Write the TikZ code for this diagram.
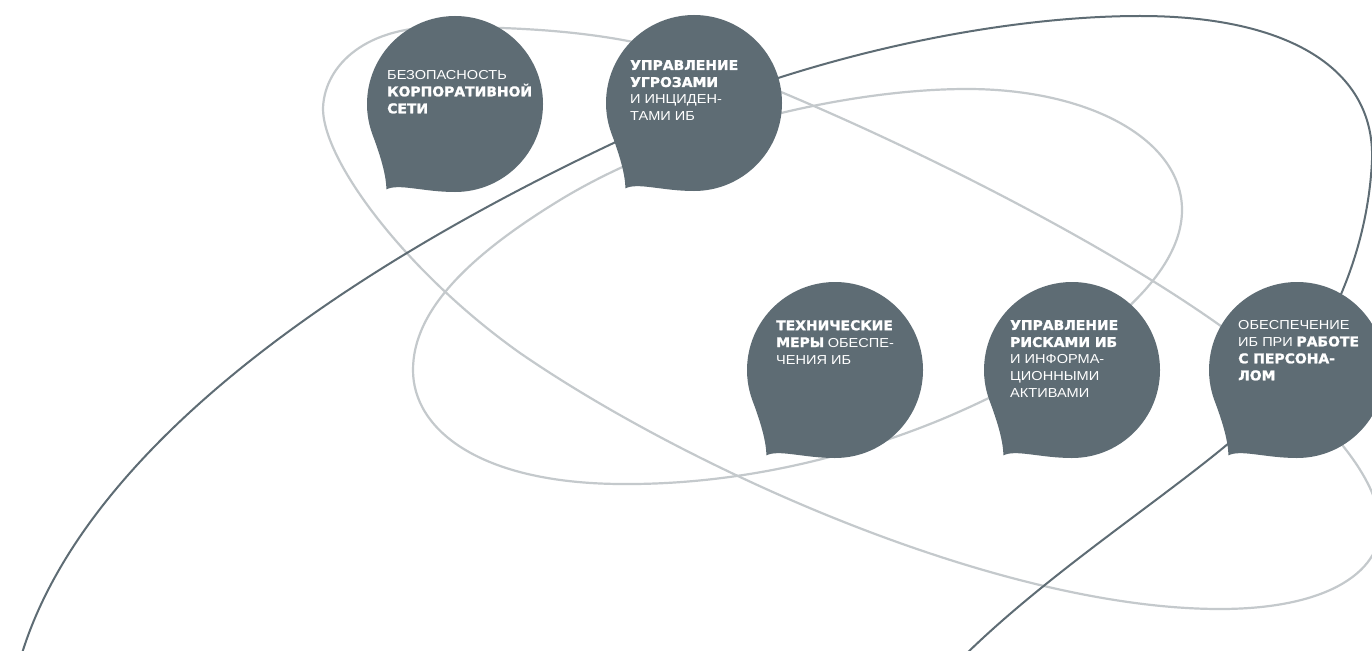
\documentclass[tikz,border=0pt]{standalone}
\usepackage{fontspec}
\setmainfont{Liberation Sans}
\newfontfamily\regf[FakeStretch=1.12]{Liberation Sans}
\newfontfamily\boldf[FakeStretch=1.04,FakeBold=1.5]{DejaVu Sans}
\newcommand\rg[1]{{\regf\fontsize{13}{17}\selectfont #1}}
\newcommand\bld[1]{{\boldf\bfseries\fontsize{13.4}{17}\selectfont #1}}
\definecolor{bub}{RGB}{94,108,116}
\definecolor{lite}{RGB}{196,201,204}
\tikzset{
  lightline/.style={draw=lite, line width=2.2pt},
  darkline/.style={draw=bub, line width=2pt},
  bubfill/.style={fill=bub, draw=none},
  btext/.style={text=white, align=left, inner sep=0pt, anchor=north west, font=\fontsize{13}{17}\selectfont}
}
\newcommand\drawbubble[2]{%
  \begin{scope}[shift={(#1,#2)}, x=88pt, y=88pt]
    \fill[bubfill] (-0.78,-0.97) .. controls (-0.64,-0.9) and (-0.36,-1) .. (0,-1)
      arc[start angle=-90, end angle=200, radius=1]
      .. controls (-0.88,-0.5) and (-0.78,-0.78) .. cycle;
  \end{scope}}
\begin{document}
\begin{tikzpicture}[x=1pt, y=-1pt]
\useasboundingbox (0,0) rectangle (1372,650);
\fill[white] (0,0) rectangle (1372,650);
\clip (0,0) rectangle (1372,650);
% light curve A
\draw[lightline] (440,27) .. controls (360,27) and (323,70) .. (323,110)
  .. controls (325,165) and (410,275) .. (520,353)
  .. controls (690,470) and (1000,609) .. (1220,609)
  .. controls (1330,609) and (1385,570) .. (1380,520)
  .. controls (1372,470) and (1330,425) .. (1240,340)
  .. controls (1100,235) and (850,115) .. (700,60)
  .. controls (620,32) and (530,27) .. cycle;
% light curve B
\draw[lightline] (413,370) .. controls (413,310) and (470,255) .. (560,200)
  .. controls (680,127) and (850,89) .. (967,89)
  .. controls (1090,89) and (1182,140) .. (1182,210)
  .. controls (1182,290) and (1060,370) .. (940,420)
  .. controls (830,465) and (720,485) .. (620,484)
  .. controls (480,483) and (413,430) .. cycle;
% dark curve
\draw[darkline] (20,660) .. controls (75,470) and (300,290) .. (620,140)
  .. controls (800,55) and (1000,16) .. (1140,16)
  .. controls (1290,16) and (1375,70) .. (1372,160)
  .. controls (1368,250) and (1330,340) .. (1270,405)
  .. controls (1210,470) and (1060,560) .. (960,660);
% bubbles
\drawbubble{455}{104}
\drawbubble{694}{103}
\drawbubble{835}{370}
\drawbubble{1072}{370}
\drawbubble{1297}{370}
% texts
\node[btext] (t1) at (387,70) {\rg{БЕЗОПАСНОСТЬ}\\\bld{КОРПОРАТИВНОЙ}\\\bld{СЕТИ}};
\node[btext] (t2) at (630,60) {\bld{УПРАВЛЕНИЕ}\\\bld{УГРОЗАМИ}\\\rg{И ИНЦИДЕН-}\\\rg{ТАМИ ИБ}};
\node[btext] (t3) at (776,320) {\bld{ТЕХНИЧЕСКИЕ}\\\bld{МЕРЫ} \rg{ОБЕСПЕ-}\\\rg{ЧЕНИЯ ИБ}};
\node[btext] (t4) at (1010,320) {\bld{УПРАВЛЕНИЕ}\\\bld{РИСКАМИ ИБ}\\\rg{И ИНФОРМА-}\\\rg{ЦИОННЫМИ}\\\rg{АКТИВАМИ}};
\node[btext] (t5) at (1238,320) {\rg{ОБЕСПЕЧЕНИЕ}\\\rg{ИБ ПРИ} \bld{РАБОТЕ}\\\bld{С ПЕРСОНА-}\\\bld{ЛОМ}};
\end{tikzpicture}
\end{document}
